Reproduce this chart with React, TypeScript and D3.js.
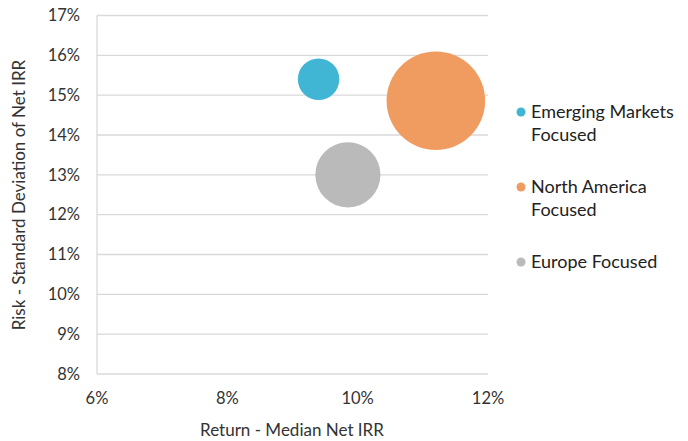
import React from "react";
import * as d3 from "d3";

const seriesNames = ["Emerging Markets Focused", "North America Focused", "Europe Focused"];
const legendLines = [["Emerging Markets", "Focused"], ["North America", "Focused"], ["Europe Focused"]];
const returns = [9.4, 11.2, 9.85];
const risks = [15.4, 14.86, 13.0];
const sizes = [43, 243, 106];
const colors = ["#41b6d4", "#f09c61", "#bababa"];
const xTicks = [6, 8, 10, 12];
const yTicks = [8, 9, 10, 11, 12, 13, 14, 15, 16, 17];

const W = 688;
const H = 441;
const FONT = "Lato, 'Open Sans', sans-serif";

export default function App() {
  const x = d3.scaleLinear().domain([6, 12]).range([97, 488]);
  const y = d3.scaleLinear().domain([8, 17]).range([374, 15.5]);
  const r = d3.scaleSqrt().domain([0, d3.max(sizes) as number]).range([0, 49.3]);
  const order = d3.range(sizes.length).sort((a, b) => sizes[b] - sizes[a]);
  const legendY = [112, 187, 262];

  return (
    <svg width={W} height={H} style={{ position: "absolute", left: 0, top: 0, background: "#fff" }} fontFamily={FONT}>
      {yTicks.map((t) => (
        <g key={t}>
          <line x1={x(6)} x2={x(12)} y1={y(t)} y2={y(t)} stroke="#d9d9d9" strokeWidth={1.3} />
          <text x={80} y={y(t)} dy="0.35em" textAnchor="end" fontSize={16.5} fill="#333">{t}%</text>
        </g>
      ))}
      <line x1={x(6)} x2={x(6)} y1={y(17)} y2={y(8)} stroke="#d9d9d9" strokeWidth={1.3} />
      {xTicks.map((t) => (
        <text key={t} x={x(t)} y={404} textAnchor="middle" fontSize={16.5} fill="#333">{t}%</text>
      ))}
      <text x={292} y={436} textAnchor="middle" fontSize={17} fill="#333">Return - Median Net IRR</text>
      <text transform={`translate(25,195) rotate(-90)`} textAnchor="middle" fontSize={17} fill="#333">Risk - Standard Deviation of Net IRR</text>
      {order.map((i) => (
        <circle key={seriesNames[i]} cx={x(returns[i])} cy={y(risks[i])} r={r(sizes[i])} fill={colors[i]} />
      ))}
      {legendLines.map((lines, i) => (
        <g key={i}>
          <circle cx={521} cy={legendY[i]} r={4.5} fill={colors[i]} />
          {lines.map((l, j) => (
            <text key={j} x={531} y={legendY[i] + 6 + j * 23} fontSize={18} fill="#222">{l}</text>
          ))}
        </g>
      ))}
    </svg>
  );
}
